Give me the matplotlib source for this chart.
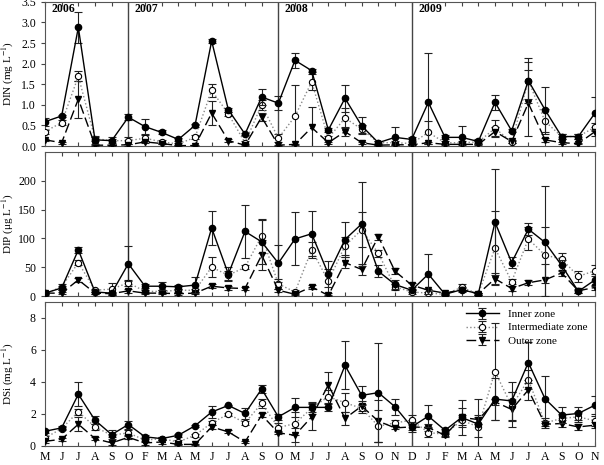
import numpy as np
import matplotlib
matplotlib.use('Agg')
import matplotlib.pyplot as plt
from matplotlib.ticker import FormatStrFormatter

plt.rcParams['font.family'] = ['Liberation Serif', 'DejaVu Serif']
plt.rcParams['mathtext.fontset'] = 'stix'

months = ['M', 'J', 'J', 'A', 'S', 'O',
          'F', 'M', 'A', 'M', 'J', 'J', 'A', 'S', 'O',
          'M', 'J', 'J', 'A', 'S', 'O', 'N', 'D',
          'J', 'F', 'M', 'A', 'M', 'J', 'J', 'A', 'S', 'O', 'N']
years = ['2006', '2007', '2008', '2009']
year_start = [0, 5, 14, 22]

# DIN (mg/L)
din_inner = [0.59, 0.73, 2.88, 0.15, 0.13, 0.70, 0.47, 0.33, 0.16, 0.50, 2.55, 0.88,
             0.29, 1.19, 1.04, 2.08, 1.83, 0.39, 1.16, 0.49, 0.08, 0.21, 0.16, 1.06,
             0.21, 0.21, 0.11, 1.06, 0.37, 1.59, 0.88, 0.23, 0.23, 0.80]
din_inner_err = [0.1, 0.03, 0.37, 0.1, 0.05, 0.07, 0.18, 0.05, 0.03, 0.03, 0.05, 0.05,
                 0.03, 0.19, 0.17, 0.19, 0.04, 0.05, 0.33, 0.21, 0.05, 0.24, 0.05, 1.2,
                 0.05, 0.28, 0.05, 0.18, 0.04, 0.55, 0.55, 0.05, 0.05, 0.4]
din_mid = [0.35, 0.57, 1.69, 0.18, 0.13, 0.13, 0.19, 0.10, 0.05, 0.21, 1.35, 0.78,
           0.08, 1.00, 0.19, 0.72, 1.56, 0.19, 0.68, 0.41, 0.08, 0.08, 0.06, 0.33,
           0.08, 0.08, 0.10, 0.43, 0.10, 1.59, 0.60, 0.23, 0.23, 0.46]
din_mid_err = [0.05, 0.05, 0.12, 0.05, 0.1, 0.08, 0.08, 0.05, 0.03, 0.05, 0.15, 0.05,
               0.03, 0.12, 0.1, 0.77, 0.2, 0.05, 0.25, 0.1, 0.03, 0.05, 0.03, 0.27,
               0.03, 0.03, 0.03, 0.2, 0.03, 0.45, 0.3, 0.05, 0.05, 0.1]
din_outer = [0.15, 0.08, 1.14, 0.02, 0.02, 0.03, 0.10, 0.06, 0.01, 0.01, 0.80, 0.13,
             0.02, 0.70, 0.02, 0.04, 0.45, 0.08, 0.35, 0.08, 0.02, 0.03, 0.03, 0.08,
             0.04, 0.04, 0.04, 0.35, 0.11, 1.04, 0.15, 0.08, 0.06, 0.35]
din_outer_err = [0.03, 0.02, 0.45, 0.01, 0.01, 0.02, 0.03, 0.02, 0.01, 0.01, 0.3, 0.03,
                 0.01, 0.1, 0.01, 0.02, 0.5, 0.02, 0.1, 0.02, 0.01, 0.01, 0.01, 0.02,
                 0.01, 0.01, 0.01, 0.1, 0.03, 0.8, 0.05, 0.02, 0.02, 0.1]

# DIP (ug/L)
dip_inner = [5, 14, 80, 7, 5, 56, 17, 17, 16, 19, 118, 38, 112, 94, 57, 99, 108,
             38, 98, 125, 43, 20, 10, 38, 3, 11, 4, 128, 58, 116, 93, 53, 8, 28]
dip_inner_err = [2, 4, 5, 3, 2, 30, 3, 7, 3, 14, 29, 12, 46, 38, 32, 46, 39,
                 22, 30, 73, 10, 8, 3, 35, 2, 4, 2, 92, 10, 10, 97, 10, 3, 10]
dip_mid = [4, 16, 58, 10, 12, 23, 8, 8, 10, 10, 50, 36, 50, 104, 21, 7, 80,
           26, 87, 115, 74, 16, 7, 5, 3, 15, 4, 83, 25, 99, 71, 64, 34, 44]
dip_mid_err = [2, 5, 4, 3, 10, 5, 3, 3, 3, 3, 17, 8, 4, 30, 8, 3, 14,
               20, 15, 30, 6, 5, 3, 2, 2, 5, 2, 64, 5, 20, 49, 10, 10, 10]
dip_outer = [5, 5, 28, 5, 4, 9, 5, 5, 4, 5, 17, 14, 13, 71, 10, 3, 16,
             1, 58, 46, 103, 43, 19, 10, 5, 11, 4, 30, 13, 23, 28, 40, 9, 15]
dip_outer_err = [2, 2, 3, 2, 2, 3, 2, 2, 2, 2, 3, 3, 3, 26, 3, 2, 3,
                 1, 10, 10, 5, 5, 4, 3, 2, 3, 2, 10, 4, 4, 28, 5, 3, 4]

# DSi (mg/L)
dsi_inner = [0.92, 1.13, 3.23, 1.61, 0.71, 1.34, 0.57, 0.46, 0.67, 1.26, 2.12, 2.53,
             2.03, 3.56, 1.82, 2.41, 2.41, 2.41, 5.03, 3.16, 3.33, 2.45, 1.19, 1.86,
             0.98, 1.78, 1.36, 2.93, 2.81, 5.21, 2.95, 1.93, 2.03, 2.55]
dsi_inner_err = [0.1, 0.1, 0.75, 0.25, 0.3, 0.25, 0.1, 0.1, 0.1, 0.05, 0.35, 0.05,
                 0.35, 0.25, 0.2, 0.6, 0.3, 0.2, 1.5, 0.6, 3.1, 0.5, 0.3, 0.7,
                 0.1, 1.1, 1.6, 1.3, 1.2, 1.3, 1.4, 0.5, 0.4, 0.55]
dsi_mid = [0.50, 1.09, 2.14, 1.19, 0.67, 0.82, 0.36, 0.46, 0.25, 0.67, 1.44, 1.99,
           1.44, 2.66, 1.15, 1.40, 2.37, 3.08, 2.70, 2.35, 1.24, 1.44, 1.61, 0.84,
           0.73, 1.61, 1.19, 4.65, 2.49, 4.13, 1.44, 1.72, 1.82, 1.57]
dsi_mid_err = [0.1, 0.1, 0.2, 0.2, 0.1, 0.15, 0.1, 0.1, 0.1, 0.1, 0.15, 0.1,
               0.15, 0.3, 0.3, 0.7, 0.4, 0.4, 0.6, 0.3, 1.0, 0.2, 0.3, 0.3,
               0.1, 0.3, 0.6, 3.0, 0.9, 0.6, 0.3, 0.3, 0.3, 0.3]
dsi_outer = [0.29, 0.42, 1.36, 0.46, 0.19, 0.54, 0.19, 0.25, 0.10, 0.10, 1.19, 0.88,
             0.25, 1.93, 0.82, 0.67, 1.82, 3.81, 1.72, 2.49, 1.55, 1.13, 1.19, 1.15,
             0.67, 1.78, 1.65, 2.76, 2.28, 3.50, 1.36, 1.40, 1.19, 1.30]
dsi_outer_err = [0.1, 0.1, 0.45, 0.1, 0.1, 0.1, 0.1, 0.1, 0.05, 0.05, 0.1, 0.1,
                 0.05, 0.15, 0.1, 0.45, 0.8, 0.8, 0.4, 0.3, 1.3, 0.1, 0.2, 0.2,
                 0.1, 0.6, 0.3, 0.2, 1.1, 0.6, 0.1, 0.2, 0.2, 0.2]

x = np.arange(len(months))

fig = plt.figure(figsize=(6.04, 4.65), dpi=100)
left, width, height = 0.0745, 0.9106, 0.31
bottoms = [0.686, 0.3634, 0.0409]

panels = [
    ('DIN (mg L$^{-1}$)', (0, 3.5), np.arange(0, 3.51, 0.5),
     (din_inner, din_inner_err), (din_mid, din_mid_err), (din_outer, din_outer_err)),
    ('DIP (\u03bcg L$^{-1}$)', (0, 250), [0, 50, 100, 150, 200],
     (dip_inner, dip_inner_err), (dip_mid, dip_mid_err), (dip_outer, dip_outer_err)),
    ('DSi (mg L$^{-1}$)', (0, 9), [0, 2, 4, 6, 8],
     (dsi_inner, dsi_inner_err), (dsi_mid, dsi_mid_err), (dsi_outer, dsi_outer_err)),
]

ec = '#222222'
for k, (ylabel, ylim, yticks, inner, mid, outer) in enumerate(panels):
    ax = fig.add_axes([left, bottoms[k], width, height])
    for xs in year_start[1:]:
        ax.axvline(xs, color='#444444', linewidth=1.0, zorder=1)
    ax.errorbar(x, inner[0], yerr=inner[1], color='black', linestyle='-', linewidth=1.0,
                marker='o', markersize=4.5, markerfacecolor='black',
                ecolor=ec, elinewidth=0.8, capsize=3, capthick=0.8,
                label='Inner zone', zorder=4)
    ax.errorbar(x, mid[0], yerr=mid[1], color='#888888', linestyle=':', linewidth=1.0,
                marker='o', markersize=4.5, markerfacecolor='white', markeredgecolor='black',
                markeredgewidth=0.8, ecolor=ec, elinewidth=0.8, capsize=3, capthick=0.8,
                label='Intermediate zone', zorder=3)
    ax.errorbar(x, outer[0], yerr=outer[1], color='black', linestyle=(0, (7, 3)), linewidth=1.0,
                marker='v', markersize=5, markerfacecolor='black',
                ecolor=ec, elinewidth=0.8, capsize=3, capthick=0.8,
                label='Outer zone', zorder=3)

    ax.set_xlim(0, 33)
    ax.set_ylim(*ylim)
    ax.set_yticks(yticks)
    ax.set_xticks(x)
    if k == 0:
        ax.yaxis.set_major_formatter(FormatStrFormatter('%.1f'))
        for xs, yr in zip(year_start, years):
            ax.text(xs + 0.4, 3.33, yr, fontsize=8.5, fontweight='bold', va='center')
    if k == 2:
        ax.set_xticklabels(months)
        ax.legend(loc='upper right', frameon=False, fontsize=8, handlelength=3,
                  borderaxespad=0.3, labelspacing=0.3, bbox_to_anchor=(1.0, 1.0))
    else:
        ax.set_xticklabels([])
    ax.tick_params(axis='x', direction='in', top=True, bottom=True, length=3,
                   labelsize=8.5, color='#444444')
    ax.tick_params(axis='y', direction='out', length=3, labelsize=8.5, color='#444444')
    for sp in ax.spines.values():
        sp.set_color('#555555')
        sp.set_linewidth(0.8)
    ax.set_ylabel(ylabel, fontsize=8)
    ax.yaxis.set_label_coords(-0.052, 0.5)

plt.savefig('out.png', dpi=100)
